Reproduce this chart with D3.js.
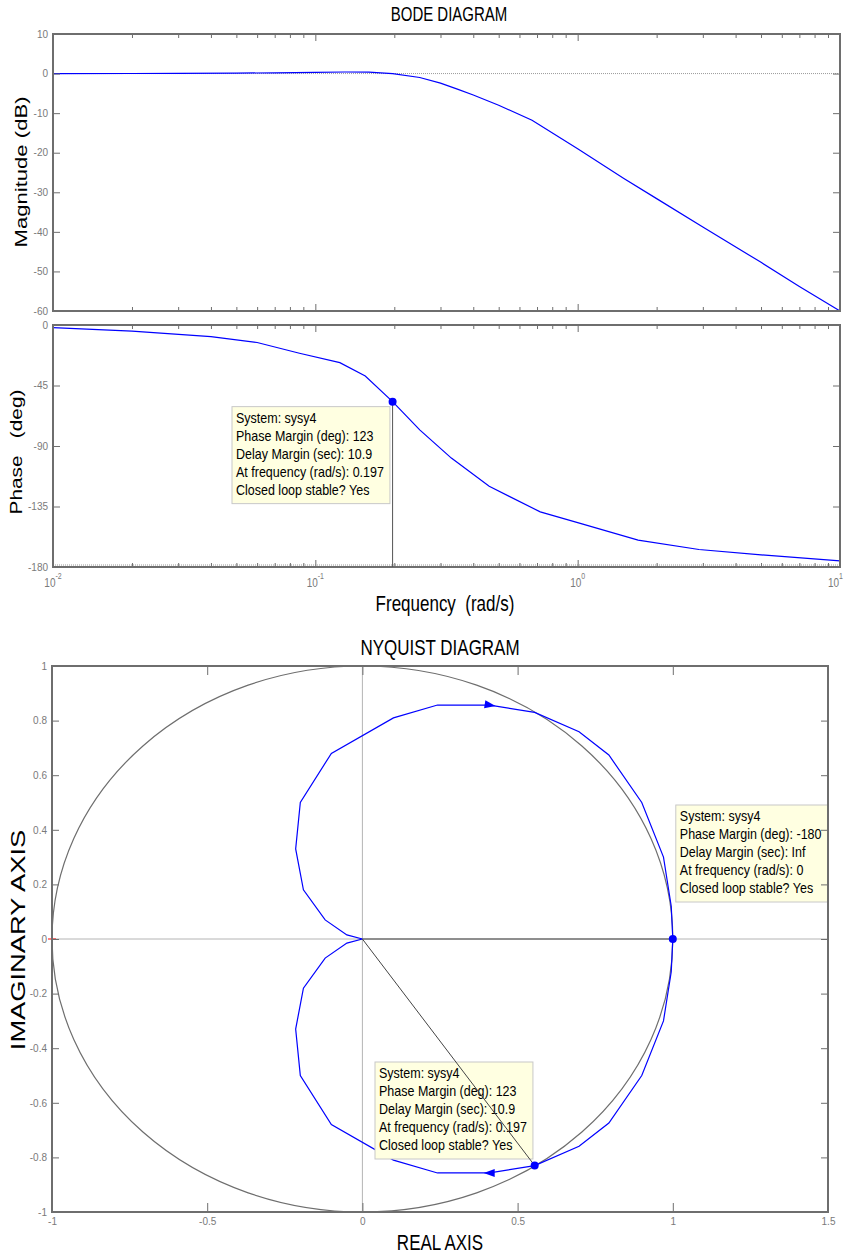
<!DOCTYPE html>
<html>
<head>
<meta charset="utf-8">
<script src="https://cdn.jsdelivr.net/npm/d3@7"></script>
<style>
  body { margin: 0; background: #fff; }
  text { font-family: "Liberation Sans", Arial, sans-serif; white-space: pre; }
</style>
</head>
<body>
<svg id="chart" width="844" height="1256"></svg>
<script>
// ---- data ----
// Bode magnitude (rad/s, dB)
const magFreq = [0.01, 0.02, 0.03, 0.05, 0.07, 0.1, 0.13, 0.16, 0.197, 0.25, 0.3, 0.35, 0.4, 0.5, 0.67, 1, 1.5, 2, 3, 5, 7, 10];
const magDb   = [0, 0.02, 0.04, 0.1, 0.2, 0.3, 0.4, 0.35, 0, -1.0, -2.4, -4.0, -5.4, -8.0, -11.8, -19, -26.5, -31.6, -38.8, -47.7, -53.8, -60];

// Bode phase (rad/s, deg)
const phaseFreq = [0.01, 0.02, 0.04, 0.06, 0.087, 0.124, 0.155, 0.197, 0.25, 0.33, 0.46, 0.72, 1, 1.7, 2.9, 5, 10];
const phaseDeg  = [-2, -4.5, -8.7, -13, -21, -28, -38, -57, -78, -99, -120, -139, -147, -160, -167, -171, -175.5];

// Nyquist, positive frequencies (lower branch), from w=0 to w=inf
const nyqRe = [1, 0.995, 0.97, 0.9, 0.794, 0.698, 0.555, 0.41, 0.242, 0.1, -0.1, -0.2, -0.215, -0.19, -0.12, -0.05, 0];
const nyqIm = [0, -0.12, -0.3, -0.5, -0.674, -0.759, -0.83, -0.857, -0.857, -0.81, -0.68, -0.5, -0.33, -0.18, -0.07, -0.015, 0];
const arrowAt = 7;

// ticks
const freqDecades = [0.01, 0.1, 1, 10];
const magTicks = [10, 0, -10, -20, -30, -40, -50, -60];
const phaseTicks = [0, -45, -90, -135, -180];
const nyqXTicks = [-1, -0.5, 0, 0.5, 1, 1.5];
const nyqYTicks = [-1, -0.8, -0.6, -0.4, -0.2, 0, 0.2, 0.4, 0.6, 0.8, 1];

// datatips
const bodeTipPoint = [0.197, -57];
const nyqTip1Point = [1, 0];
const nyqTip2Point = [0.555, -0.83];
const tipMargin = ["System: sysy4", "Phase Margin (deg): 123", "Delay Margin (sec): 10.9", "At frequency (rad/s): 0.197", "Closed loop stable? Yes"];
const tipDc = ["System: sysy4", "Phase Margin (deg): -180", "Delay Margin (sec): Inf", "At frequency (rad/s): 0", "Closed loop stable? Yes"];

// ---- setup ----
const S = 1.3;              // vertical stretch of the exported figure
const frameColor = "#6e6e6e";
const tickText = "#7a7a7a";
const blue = "#0000ff";

const svg = d3.select("#chart");

const xB = d3.scaleLog().domain([0.01, 10]).range([53, 840]);
const yMag = d3.scaleLinear().domain([-60, 10]).range([311, 34]);
const yPh = d3.scaleLinear().domain([-180, 0]).range([567, 325]);
const xN = d3.scaleLinear().domain([-1, 1.5]).range([52, 828]);
const yN = d3.scaleLinear().domain([-1, 1]).range([1212, 666]);

function label(x, y, str, size, anchor, rotate) {
  const t = rotate ? `translate(${x},${y}) rotate(-90) scale(${S},1)` : `translate(${x},${y}) scale(1,${S})`;
  return svg.append("text")
    .attr("transform", t)
    .attr("text-anchor", anchor || "middle")
    .style("font-size", size + "px")
    .text(str);
}

function styleAxis(g) {
  g.select(".domain").remove();
  g.selectAll(".tick line").attr("stroke", frameColor).attr("stroke-width", 1);
  g.selectAll(".tick text").attr("fill", tickText).style("font-size", "10px")
    .style("font-family", "'Liberation Sans', Arial, sans-serif");
}

function frame(x, y) {
  const [x0, x1] = x.range(), [y1, y0] = y.range();
  svg.append("rect").attr("x", x0).attr("y", y0).attr("width", x1 - x0).attr("height", y1 - y0)
    .attr("fill", "none").attr("stroke", frameColor).attr("stroke-width", 2);
}

function logTicks(y) {
  const [y1, y0] = y.range();
  const minor = xB.ticks().filter(d => !freqDecades.includes(d));
  [[d3.axisTop, y0], [d3.axisBottom, y1]].forEach(([ax, pos]) => {
    svg.append("g").attr("transform", `translate(0,${pos})`)
      .call(ax(xB).tickValues(minor).tickSize(-4).tickFormat("")).call(styleAxis);
    svg.append("g").attr("transform", `translate(0,${pos})`)
      .call(ax(xB).tickValues(freqDecades).tickSize(-7).tickFormat("")).call(styleAxis);
  });
}

function yTicks(y, x, values) {
  const [x0, x1] = x.range();
  svg.append("g").attr("transform", `translate(${x0},0)`)
    .call(d3.axisLeft(y).tickValues(values).tickSize(-7).tickPadding(5).tickFormat(d => String(d)))
    .call(styleAxis);
  svg.append("g").attr("transform", `translate(${x1},0)`)
    .call(d3.axisRight(y).tickValues(values).tickSize(-7).tickFormat(""))
    .call(styleAxis);
}

function datatip(x, y, lines) {
  const g = svg.append("g");
  const rect = g.append("rect").attr("x", x).attr("y", y)
    .attr("fill", "#ffffe1").attr("stroke", "#c8c8c8").attr("stroke-width", 1);
  let w = 0;
  lines.forEach((s, i) => {
    const t = g.append("text").attr("transform", `translate(${x + 4},${y + 16 + i * 18}) scale(1,1.12)`)
      .style("font-size", "12.5px").attr("fill", "#000").text(s);
    w = Math.max(w, t.node().getComputedTextLength());
  });
  rect.attr("width", w + 10).attr("height", 97);
}

// ---- Bode magnitude ----
svg.append("line").attr("x1", xB(0.01)).attr("x2", xB(10)).attr("y1", yMag(0)).attr("y2", yMag(0))
  .attr("stroke", "#9a9a9a").attr("stroke-dasharray", "1,1");
svg.append("path")
  .datum(magFreq.map((f, i) => [f, magDb[i]]))
  .attr("fill", "none").attr("stroke", blue).attr("stroke-width", 1.2)
  .attr("d", d3.line().x(d => xB(d[0])).y(d => yMag(d[1])));
logTicks(yMag);
yTicks(yMag, xB, magTicks);
frame(xB, yMag);

// ---- Bode phase ----
svg.append("line").attr("x1", xB(0.01)).attr("x2", xB(10)).attr("y1", yPh(-180) - 2).attr("y2", yPh(-180) - 2)
  .attr("stroke", "#9a9a9a").attr("stroke-dasharray", "1,1");
svg.append("path")
  .datum(phaseFreq.map((f, i) => [f, phaseDeg[i]]))
  .attr("fill", "none").attr("stroke", blue).attr("stroke-width", 1.2)
  .attr("d", d3.line().x(d => xB(d[0])).y(d => yPh(d[1])));
logTicks(yPh);
yTicks(yPh, xB, phaseTicks);
frame(xB, yPh);

// phase margin marker
const bx = xB(bodeTipPoint[0]), by = yPh(bodeTipPoint[1]);
datatip(232, by + 5, tipMargin);
svg.append("line").attr("x1", bx).attr("x2", bx).attr("y1", by).attr("y2", yPh(-180))
  .attr("stroke", "#555").attr("stroke-width", 1);
svg.append("circle").attr("cx", bx).attr("cy", by).attr("r", 4).attr("fill", blue);

// decade labels 10^n
freqDecades.forEach((f, i) => {
  const last = i === freqDecades.length - 1;
  const t = svg.append("text").attr("transform", `translate(${last ? 843 : xB(f)},587) scale(1,${S})`)
    .attr("text-anchor", last ? "end" : "middle").attr("fill", tickText).style("font-size", "10px");
  t.append("tspan").text("10");
  t.append("tspan").attr("dy", -6).style("font-size", "7px").text(Math.round(Math.log10(f)));
});

// ---- Nyquist ----
svg.append("line").attr("x1", xN(0)).attr("x2", xN(0)).attr("y1", yN(1)).attr("y2", yN(-1))
  .attr("stroke", "#b4b4b4").attr("stroke-width", 1);
svg.append("line").attr("x1", xN(-1)).attr("x2", xN(1.5)).attr("y1", yN(0)).attr("y2", yN(0))
  .attr("stroke", "#b4b4b4").attr("stroke-width", 1);

// unit circle
svg.append("ellipse").attr("cx", xN(0)).attr("cy", yN(0))
  .attr("rx", xN(1) - xN(0)).attr("ry", yN(0) - yN(1))
  .attr("fill", "none").attr("stroke", "#6e6e6e").attr("stroke-width", 1.2);

const lower = nyqRe.map((r, i) => [r, nyqIm[i]]);
const upper = lower.map(d => [d[0], -d[1]]);
const nline = d3.line().x(d => xN(d[0])).y(d => yN(d[1]));
[lower, upper].forEach(pts => {
  svg.append("path").datum(pts).attr("fill", "none").attr("stroke", blue).attr("stroke-width", 1.2).attr("d", nline);
});

// arrows: lower branch points toward rising w, upper branch the other way
function arrow(p, q) {
  const x = xN(p[0]), y = yN(p[1]);
  const ang = Math.atan2(yN(q[1]) - y, xN(q[0]) - x) * 180 / Math.PI;
  svg.append("path").attr("d", "M6,0L-5,-4L-5,4Z").attr("fill", blue)
    .attr("transform", `translate(${x},${y}) rotate(${ang})`);
}
arrow(lower[arrowAt], lower[arrowAt + 1]);
arrow(upper[arrowAt], upper[arrowAt - 1]);

// critical point
svg.append("path").attr("d", `M${xN(-1) - 4},${yN(0)}h8M${xN(-1)},${yN(0) - 4}v8`)
  .attr("stroke", "red").attr("stroke-width", 1.2);

// datatip at w = 0
const n1x = xN(nyqTip1Point[0]), n1y = yN(nyqTip1Point[1]);
svg.append("line").attr("x1", xN(0)).attr("y1", yN(0)).attr("x2", n1x).attr("y2", n1y)
  .attr("stroke", "#444").attr("stroke-width", 1);
datatip(n1x + 3, 805, tipDc);

// datatip at crossover
const n2x = xN(nyqTip2Point[0]), n2y = yN(nyqTip2Point[1]);
datatip(375, 1062, tipMargin);
svg.append("line").attr("x1", xN(0)).attr("y1", yN(0)).attr("x2", n2x).attr("y2", n2y)
  .attr("stroke", "#444").attr("stroke-width", 1);

svg.append("circle").attr("cx", n1x).attr("cy", n1y).attr("r", 4).attr("fill", blue);
svg.append("circle").attr("cx", n2x).attr("cy", n2y).attr("r", 4).attr("fill", blue);

// axis ticks
svg.append("g").attr("transform", `translate(0,${yN(-1)})`)
  .call(d3.axisBottom(xN).tickValues(nyqXTicks).tickSize(-9).tickPadding(6).tickFormat(d => String(d)))
  .call(styleAxis);
svg.append("g").attr("transform", `translate(0,${yN(1)})`)
  .call(d3.axisTop(xN).tickValues(nyqXTicks).tickSize(-9).tickFormat(""))
  .call(styleAxis);
yTicks(yN, xN, nyqYTicks);
frame(xN, yN);

// ---- titles and axis labels ----
label(449, 21, "BODE DIAGRAM", 15);
label(445, 611, "Frequency  (rad/s)", 17);
label(27, 172, "Magnitude (dB)", 17, "middle", true);
label(22, 452, "Phase   (deg)", 16, "middle", true);
label(440, 655, "NYQUIST DIAGRAM", 17);
label(440, 1250, "REAL AXIS", 17);
label(25, 940, "IMAGINARY AXIS", 21, "middle", true);
</script>
</body>
</html>
